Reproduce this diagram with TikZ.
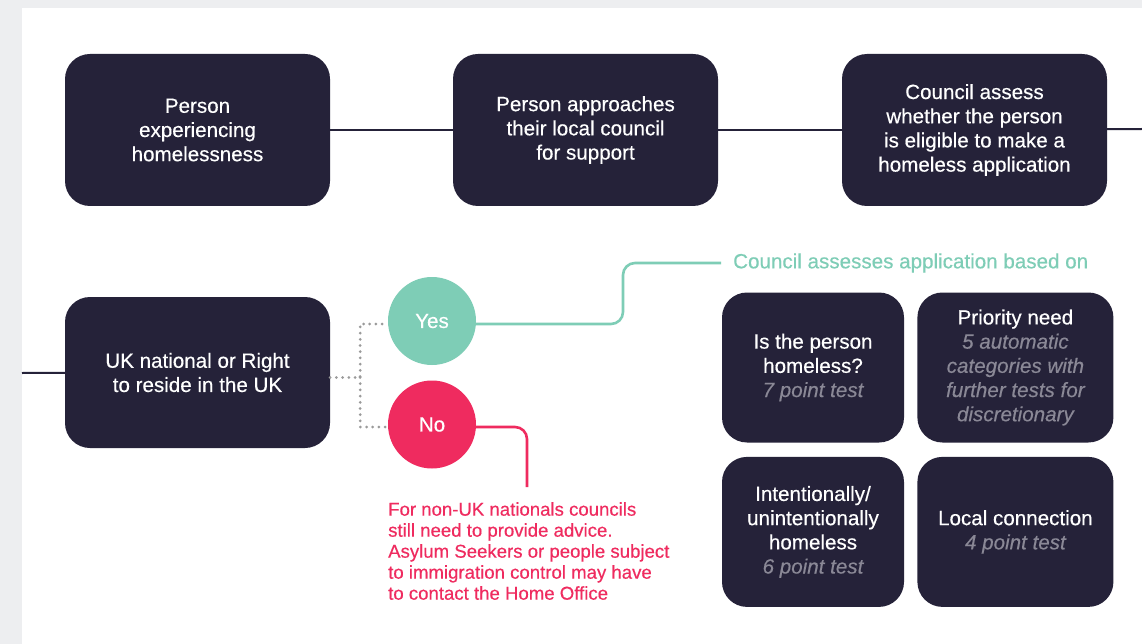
\documentclass[tikz,border=0pt]{standalone}
\usepackage{fontspec}
\setmainfont[FakeBold=0.4]{Liberation Sans}
\usetikzlibrary{positioning}
\definecolor{navy}{HTML}{252239}
\definecolor{mint}{HTML}{7ECDB6}
\definecolor{alertred}{HTML}{EF2B5F}
\definecolor{notegray}{HTML}{8A8896}
\definecolor{pagegray}{HTML}{EDEEF0}
\definecolor{dotgray}{HTML}{9A9A9A}
\newcommand\boxfont{\fontsize{20.6}{24.2}\selectfont}
\newcommand\testnote[1]{{\color{notegray}\itshape #1}}
\begin{document}
\begin{tikzpicture}[x=1pt,y=-1pt,
  stepbox/.style={fill=navy,text=white,rounded corners=25pt,inner sep=0pt,
    minimum width=265pt,minimum height=152pt,align=center,font=\boxfont},
  testbox/.style={stepbox,minimum width=182pt,minimum height=150pt},
  answer/.style={circle,fill=#1,text=white,inner sep=0pt,minimum size=88pt,font=\boxfont},
  navyline/.style={draw=navy,line width=2pt},
  dotline/.style={draw=dotgray,line width=3pt,line cap=round,dash pattern=on 0pt off 6.2pt},
  yesline/.style={draw=mint,line width=2.6pt,rounded corners=12pt},
  noline/.style={draw=alertred,line width=2.6pt,rounded corners=12pt}]
\useasboundingbox (0,0) rectangle (1142,644);
\fill[pagegray] (0,0) rectangle (1142,644);
\fill[white] (22,8) rectangle (1142,644);
% top row
\node[stepbox] (person) at (197.5,130) {Person\\experiencing\\homelessness};
\node[stepbox] (approach) at (585.5,130) {Person approaches\\their local council\\for support};
\node[stepbox] (eligible) at (974.5,130) {Council assess\\whether the person\\is eligible to make a\\homeless application};
\coordinate (rightend) at (1142,129);
\draw[navyline] (person) -- (approach);
\draw[navyline] (approach) -- (eligible);
\draw[navyline] (eligible) -- (rightend);
% second row
\coordinate (leftend) at (22,373);
\node[stepbox,minimum height=151pt] (resident) at (197.5,372.5) {UK national or Right\\to reside in the UK};
\draw[navyline] (leftend) -- (resident);
\node[answer=mint] (yes) at (432,321) {Yes};
\node[answer=alertred] (no) at (432,424.5) {No};
\draw[dotline] ([yshift=-5pt]resident.east) -- ++(30,0) coordinate (fork) |- ([yshift=-3pt]yes.west);
\draw[dotline] (fork) |- ([yshift=-2.5pt]no.west);
% yes branch
\node[anchor=west,inner sep=0pt,inner xsep=12pt,text=mint,font=\boxfont] (basedon) at (721,263) {Council assesses application based on};
\coordinate (yesbend) at (623,263);
\draw[yesline] ([yshift=-3pt]yes.east) -| (yesbend) -- (basedon.west);
\node[testbox] (homeless) at (813,367.5) {Is the person\\homeless?\\\testnote{7 point test}};
\node[testbox,minimum width=196pt,right=13pt of homeless] (priority) {Priority need\\\testnote{5 automatic}\\\testnote{categories with}\\\testnote{further tests for}\\\testnote{discretionary}};
\node[testbox,below=14pt of homeless] (intent) {Intentionally/\\unintentionally\\homeless\\\testnote{6 point test}};
\node[testbox,minimum width=196pt,right=13pt of intent] (localconn) {Local connection\\\testnote{4 point test}};
% no branch
\coordinate (noend) at (527,487);
\draw[noline] ([yshift=-2.5pt]no.east) -| (noend);
\node[anchor=north west,inner sep=0pt,align=left,text=alertred,font=\fontsize{18.6}{21}\selectfont] (advice) at (388,502)
  {For non-UK nationals councils\\still need to provide advice.\\Asylum Seekers or people subject\\to immigration control may have\\to contact the Home Office};
\end{tikzpicture}
\end{document}
